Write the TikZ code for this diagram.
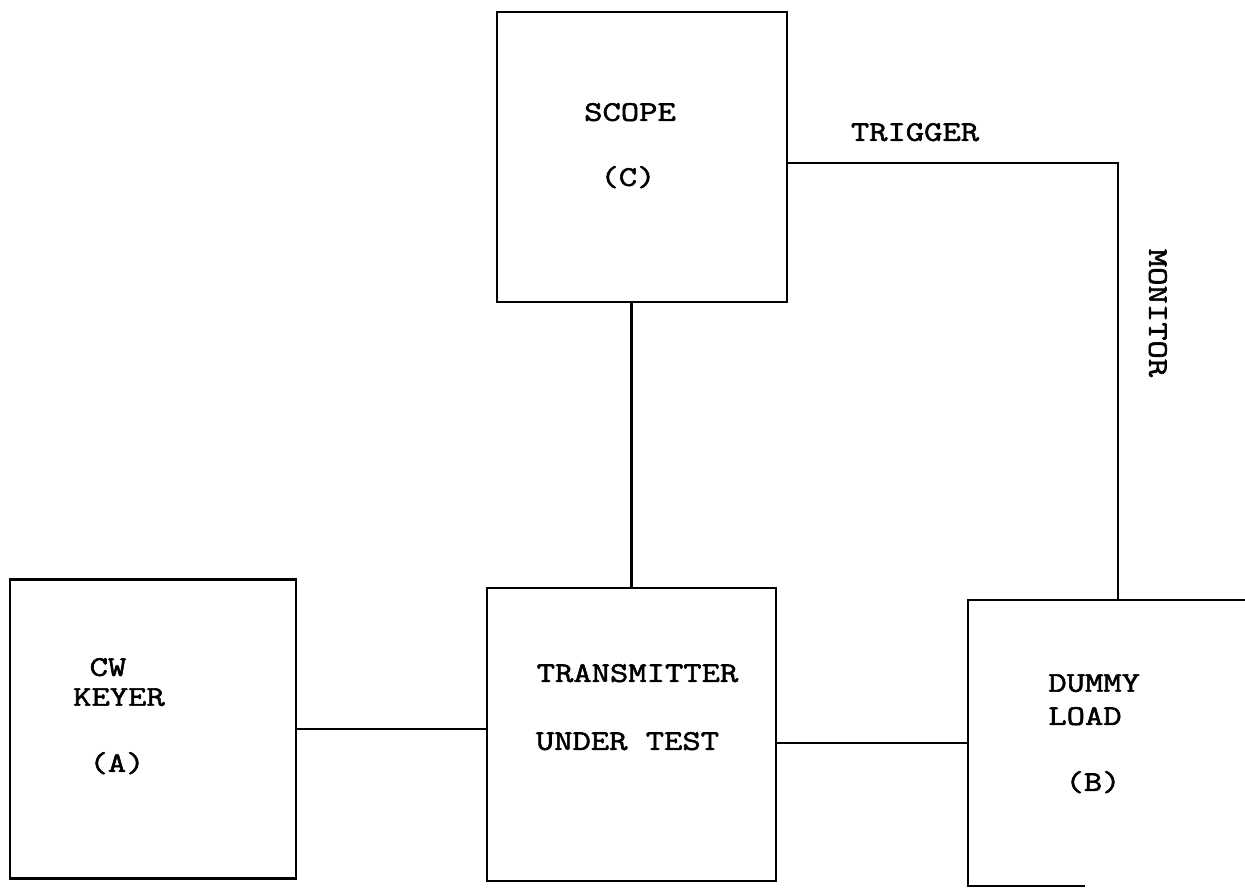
\documentclass[tikz,border=0pt]{standalone}
\usepackage{fontspec}
\setmonofont[FakeStretch=1.25,FakeBold=2]{Latin Modern Mono}
\usetikzlibrary{calc}
\begin{document}
\begin{tikzpicture}[x=0.02cm,y=-0.02cm,
  box/.style={draw,line width=1.3pt,inner sep=0pt,outer sep=0pt},
  lbl/.style={font=\ttfamily\fontsize{16.2}{17}\selectfont,inner sep=0pt,text depth=0pt},
  wire/.style={line width=1.3pt}]
\useasboundingbox (0,0) rectangle (1245,891);
% boxes
\node[box,minimum width=290*0.02cm,minimum height=290*0.02cm] (scope) at (642,157) {};
\node[box,minimum width=286*0.02cm,minimum height=299*0.02cm] (keyer) at (153,729) {};
\node[box,minimum width=289*0.02cm,minimum height=293*0.02cm] (tx) at (631.5,734.5) {};
\node[inner sep=0pt,outer sep=0pt,minimum width=277*0.02cm,minimum height=286*0.02cm] (dummy) at (1106.5,743) {};
\draw[wire] (dummy.north east) -- (dummy.north west) -- (dummy.south west) -- ($(dummy.south west)+(117,0)$);
% labels
\node[lbl] (lscope) at (630,112) {SCOPE};
\node[lbl] (lc) at (628,176) {(C)};
\node[lbl] (lcw) at (108,667) {CW};
\node[lbl] (lkey) at (119,697) {KEYER};
\node[lbl] (la) at (117,762) {(A)};
\node[lbl] (ltx) at (637.5,673) {TRANSMITTER};
\node[lbl] (lut) at (627.5,741) {UNDER TEST};
\node[lbl,anchor=west] (ldum) at (1048,683) {DUMMY};
\node[lbl,anchor=west] (lload) at (1048,716) {LOAD};
\node[lbl] (lb) at (1093,781) {(B)};
\node[lbl] (ltrig) at (915,132) {TRIGGER};
\node[lbl,rotate=-90] (lmon) at (1158,313) {MONITOR};
% connectors
\coordinate (corner) at (1118,0);
\draw[wire] (tx.north) -- (tx.north |- scope.south);
\draw[wire] (keyer.east) -- (keyer.east -| tx.west);
\draw[wire] (dummy.west) -- (dummy.west -| tx.east);
\draw[wire] ($(scope.east)+(0,6)$) -- ($(scope.east -| corner)+(0,6)$) -- (corner |- dummy.north);
\end{tikzpicture}
\end{document}
